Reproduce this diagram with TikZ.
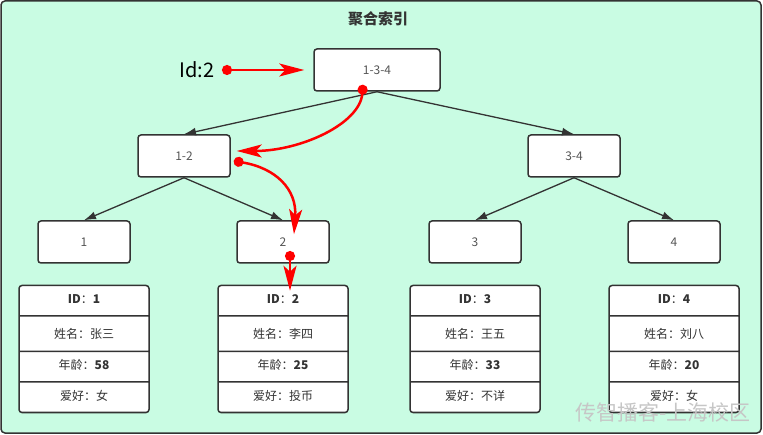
\documentclass[tikz,border=0pt]{standalone}
\usepackage{fontspec}
\setmainfont{Noto Sans CJK SC}
\usetikzlibrary{positioning,arrows.meta,shapes.multipart}
\definecolor{mint}{HTML}{C9FCE3}
\definecolor{edgegray}{HTML}{333333}
\definecolor{labelgray}{HTML}{555555}

\begin{document}
\begin{tikzpicture}[x=1pt,y=-1pt,on grid,node distance=86pt,
    key/.style={draw=edgegray,line width=1.5pt,rounded corners=3pt,fill=white,
      minimum width=92pt,minimum height=42pt,text=labelgray,font=\fontsize{12}{14}\selectfont},
    record/.style={draw=edgegray,line width=1.5pt,rounded corners=3pt,fill=white,
      rectangle split,rectangle split parts=4,minimum width=130pt,inner ysep=6.5pt,
      text=edgegray,font=\fontsize{12}{16}\selectfont},
    tree/.style={-{Latex[length=12pt,width=8pt]},color=edgegray,line width=1.3pt},
    search/.style={{Circle[length=10pt]}-{Stealth[length=25pt,width=13pt,inset=6pt]},
      draw=red,line width=2.5pt}]
   \useasboundingbox (0,0) rectangle (763,435);
   \draw[draw=edgegray,fill=mint,line width=1.5pt,rounded corners=4pt] (1,1) rectangle (761,433);
   \node[font=\fontsize{15}{18}\selectfont\bfseries,text=edgegray] (title) at (378,19) {聚合索引};

   \node[key,minimum width=126pt] (k134) at (377,70) {1-3-4};
   \node[key] (k12) [below left=86pt and 193pt of k134] {1-2};
   \node[key] (k34) [below right=86pt and 197pt of k134] {3-4};
   \node[key] (k1) [below left=86pt and 100pt of k12] {1};
   \node[key] (k2) [below right=86pt and 99pt of k12] {2};
   \node[key] (k3) [below left=86pt and 99pt of k34] {3};
   \node[key] (k4) [below right=86pt and 100pt of k34] {4};

   \node[record] (r1) [below=107pt of k1] {\strut\textbf{ID}：\textbf{1}\nodepart{two}\rule[-6pt]{0pt}{21pt}姓名：张三\nodepart{three}\strut 年龄：\textbf{58}\nodepart{four}\strut 爱好：女};
   \node[record] (r2) [below=107pt of k2] {\strut\textbf{ID}：\textbf{2}\nodepart{two}\rule[-6pt]{0pt}{21pt}姓名：李四\nodepart{three}\strut 年龄：\textbf{25}\nodepart{four}\strut 爱好：投币};
   \node[record] (r3) [below=107pt of k3] {\strut\textbf{ID}：\textbf{3}\nodepart{two}\rule[-6pt]{0pt}{21pt}姓名：王五\nodepart{three}\strut 年龄：\textbf{33}\nodepart{four}\strut 爱好：不详};
   \node[record] (r4) [below=107pt of k4] {\strut\textbf{ID}：\textbf{4}\nodepart{two}\rule[-6pt]{0pt}{21pt}姓名：刘八\nodepart{three}\strut 年龄：\textbf{20}\nodepart{four}\strut 爱好：女};

   \path[tree]
    (k134.south) edge (k12.north)
                 edge (k34.north)
    (k12.south) edge (k1.north)
                edge (k2.north)
    (k34.south) edge (k3.north)
                edge (k4.north);

   % search path for Id:2
   \node[font=\fontsize{20}{24}\selectfont] (query) at (197,70) {Id:2};
   \draw[search,shorten >=9pt] ([xshift=4pt]query.east) -- (k134.west);
   \draw[search] ([xshift=-14pt,yshift=7pt]k134.south) .. controls +(-3,39) and +(64,0) .. ([xshift=6pt,yshift=5pt]k12.east);
   \draw[search] ([xshift=3pt,yshift=-5pt]k12.east) .. controls +(42,7) and +(3,-45) .. ([xshift=11pt,yshift=-14pt]k2.north);
   \draw[search] ([xshift=7pt,yshift=-9pt]k2.center) -- ([xshift=7pt,yshift=-6pt]r2.north);

   \node[font=\fontsize{21}{24}\selectfont,text=gray!45] (mark) at (663,412) {传智播客-上海校区};
\end{tikzpicture}
\end{document}
